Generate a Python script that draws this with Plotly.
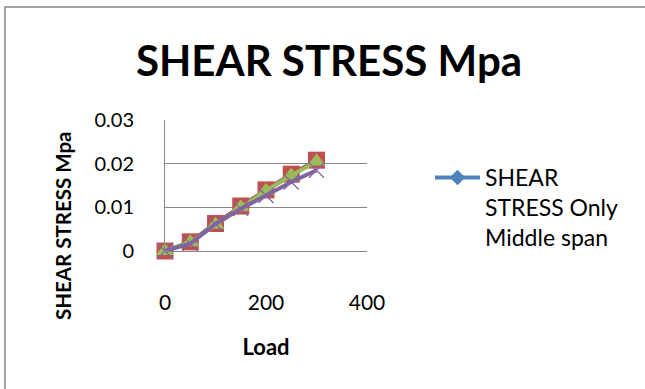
import plotly.graph_objects as go

load = [0, 50, 100, 150, 200, 250, 300]
s1 = [0, 0.0021, 0.0063, 0.0102, 0.0140, 0.0176, 0.0207]
s2 = [0, 0.0021, 0.0063, 0.0103, 0.0140, 0.0176, 0.0208]
s3 = [0, 0.0020, 0.0060, 0.0100, 0.0138, 0.0173, 0.0205]
s4 = [0, 0.0017, 0.0062, 0.0097, 0.0127, 0.0158, 0.0185]
legend_name = "SHEAR<br>STRESS Only<br>Middle span"
chart_title = "SHEAR STRESS Mpa"
y_title = "SHEAR STRESS Mpa"
x_title = "Load"
y_ticks = [0, 0.01, 0.02, 0.03]
y_tick_text = ["0", "0.01", "0.02", "0.03"]
x_ticks = [0, 200, 400]

FONT = "Lato, 'Open Sans', sans-serif"
W, H = 645, 389
L, R, T, B = 165, 367, 120, 251
PW, PH = R - L, B - T

def px_x(p):
    return (p - L) / PW

def px_y(p):
    return (B - p) / PH

fig = go.Figure()
fig.add_trace(go.Scatter(x=load, y=s1, mode="lines+markers", name=legend_name,
                         line=dict(color="#4F81BD", width=4),
                         marker=dict(symbol="diamond", size=12, color="#4F81BD"),
                         cliponaxis=False))
fig.add_trace(go.Scatter(x=load, y=s2, mode="lines+markers", showlegend=False,
                         line=dict(color="#C0504D", width=3),
                         marker=dict(symbol="square", size=17, color="#C0504D"),
                         cliponaxis=False))
fig.add_trace(go.Scatter(x=load, y=s3, mode="lines+markers", showlegend=False,
                         line=dict(color="#9BBB59", width=4),
                         marker=dict(symbol="triangle-up", size=16, color="#9BBB59"),
                         cliponaxis=False))
fig.add_trace(go.Scatter(x=load, y=s4, mode="lines+markers", showlegend=False,
                         line=dict(color="#8064A2", width=4),
                         marker=dict(symbol="x-thin-open", size=15,
                                     line=dict(color="#8064A2", width=1.2)),
                         cliponaxis=False))

fig.update_layout(
    width=W, height=H,
    margin=dict(l=L, r=W - R, t=T, b=H - B),
    paper_bgcolor="white", plot_bgcolor="white",
    font=dict(family=FONT, color="#000000", size=20),
    title=dict(text="<b>" + chart_title + "</b>", x=px_x(329), xanchor="center",
               xref="paper", y=1 - 61/H, yanchor="middle", yref="container",
               font=dict(size=42, family=FONT)),
    showlegend=True,
    legend=dict(x=px_x(430), xanchor="left", y=px_y(156), yanchor="top",
                font=dict(size=23, family=FONT), valign="top",
                bgcolor="rgba(0,0,0,0)", itemwidth=45),
    xaxis=dict(range=[0, 400], tickvals=x_ticks, showgrid=False,
               showline=True, linecolor="#868686", linewidth=1,
               ticks="", tickfont=dict(size=21), zeroline=False,
               ticklabelstandoff=33,
               title=dict(text="<b>" + x_title + "</b>", font=dict(size=22), standoff=26)),
    yaxis=dict(range=[0, 0.03], tickvals=y_ticks, ticktext=y_tick_text,
               showgrid=True, gridcolor="#868686", gridwidth=1,
               showline=True, linecolor="#868686", linewidth=1,
               ticks="", tickfont=dict(size=20), zeroline=False,
               ticklabelstandoff=26),
    annotations=[dict(text="<b>" + y_title + "</b>", textangle=-90,
                      xref="paper", yref="paper", x=px_x(63), y=px_y(226),
                      xanchor="center", yanchor="middle", showarrow=False,
                      font=dict(size=20.5, family=FONT))],
    shapes=[dict(type="rect", xref="paper", yref="paper",
                 x0=px_x(5), x1=px_x(900), y0=px_y(600), y1=px_y(7),
                 line=dict(color="#868686", width=1.5), fillcolor="rgba(0,0,0,0)",
                 layer="below")]
)

fig.write_html("out.html")
